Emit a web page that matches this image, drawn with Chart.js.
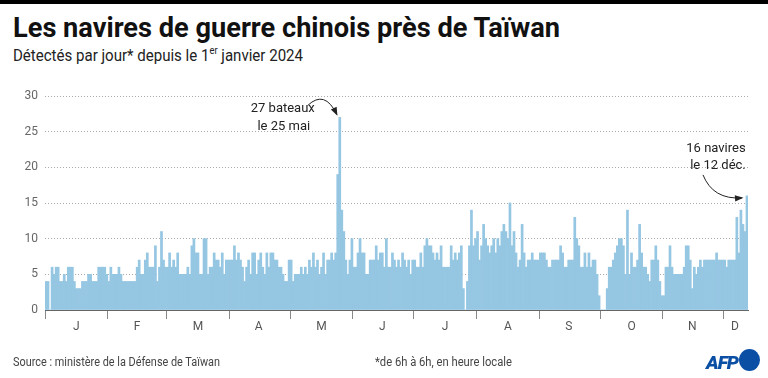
<!DOCTYPE html>
<html><head><meta charset="utf-8">
<script src="https://cdn.jsdelivr.net/npm/chart.js@4.4.0/dist/chart.umd.min.js"></script>
<style>
html,body{margin:0;padding:0;background:#fff;}
body{width:768px;height:378px;position:relative;overflow:hidden;}
#topbar{position:absolute;left:0;top:0;width:768px;height:4px;background:#000;}
.t{position:absolute;white-space:nowrap;transform-origin:0 0;line-height:1;}
#title{left:13px;top:11px;font:bold 28px Roboto,sans-serif;color:#111;}
#sub{left:13px;top:46px;font:16px Roboto,sans-serif;color:#222;}
#sub sup{font-size:10px;vertical-align:top;position:relative;top:-1px;}
#src{left:13px;top:355px;font:12px Roboto,sans-serif;color:#444;}
#note{left:375px;top:355px;font:12px Roboto,sans-serif;color:#444;}
#afp{left:706px;top:351px;font:italic 900 19px Roboto,sans-serif;color:#0a4fa3;letter-spacing:-1px;}
#dot{position:absolute;left:739px;top:349px;width:21px;height:22px;border-radius:50%;background:#0a4fa3;}
#c{position:absolute;left:0;top:0;}
</style></head>
<body>
<div id="topbar"></div>
<div class="t" id="title" data-w="547">Les navires de guerre chinois près de Taïwan</div>
<div class="t" id="sub" data-w="290">Détectés par jour* depuis le 1<sup>er</sup> janvier 2024</div>
<canvas id="c" width="768" height="378"></canvas>
<div class="t" id="src" data-w="207">Source : ministère de la Défense de Taïwan</div>
<div class="t" id="note" data-w="137">*de 6h à 6h, en heure locale</div>
<div class="t" id="afp" data-w="32">AFP</div>
<div id="dot"></div>
<script>
// ---- Data (ships detected per day, 2024) ----
const monthLetters = ['J','F','M','A','M','J','J','A','S','O','N','D'];
const jan = [4,4,0,6,5,6,6,4,4,5,4,6,6,6,4,3,3,3,4,4,4,5,5,4,4,4,6,6,6,6,5];
const feb = [4,6,5,5,5,6,5,4,4,4,4,4,4,4,6,7,5,5,7,8,6,6,6,9,4,6,11,7,6];
const mar = [6,8,6,7,6,8,5,5,5,5,6,5,9,10,8,8,5,5,10,10,5,6,6,8,7,7,6,8,5,7,7];
const apr = [7,7,9,7,8,7,6,4,6,7,5,8,8,5,7,8,6,5,8,6,8,8,7,7,6,6,5,4,4,7];
const may = [7,4,5,5,5,6,5,6,5,7,6,8,6,7,5,6,8,5,7,7,8,7,8,19,27,14,11,7,5,7,10];
const jun = [6,6,8,10,8,8,5,5,7,7,7,9,7,8,8,6,10,6,6,8,7,6,7,6,8,7,6,7,5,7];
const jul = [7,6,6,8,6,9,10,9,9,8,7,8,7,9,6,6,6,6,9,7,8,7,8,9,3,0,4,9,14,9,10];
const aug = [11,7,9,12,10,9,8,9,10,8,10,9,11,12,11,10,15,9,11,8,6,7,12,8,6,7,7,8,7,7,7];
const sep = [8,8,8,7,6,6,7,7,7,7,9,8,6,6,7,7,7,13,10,9,6,6,8,6,8,6,7,7,5,2];
const oct = [0,0,0,3,6,6,7,8,9,10,10,9,5,14,5,8,6,6,7,12,8,6,6,5,4,7,7,9,7,4,2];
const nov = [2,6,6,9,6,5,5,5,5,5,6,9,9,7,3,6,5,6,7,6,7,7,7,7,7,7,8,7,7,7];
const dec = [7,6,7,7,7,7,13,8,14,12,11,16];
const yTicks = [0,5,10,15,20,25,30];
const notes = [
  {month:4, day:25, lines:['27 bateaux','le 25 mai']},
  {month:11, day:12, lines:['16 navires','le 12 déc.']}
];

const monthData = [jan,feb,mar,apr,may,jun,jul,aug,sep,oct,nov,dec];
const values = [].concat(...monthData);
const labels = [];
const monthStart = new Set();
const monthMid = new Map();
let idx = 0;
monthData.forEach((m, mi) => {
  monthStart.add(idx);
  monthMid.set(idx + Math.floor((m.length - 1) / 2), monthLetters[mi]);
  m.forEach((v, d) => labels.push((d + 1) + '/' + (mi + 1)));
  idx += m.length;
});
function dayIndex(month, day){ let s=0; for(let i=0;i<month;i++) s+=monthData[i].length; return s+day-1; }

// fit texts
document.querySelectorAll('.t').forEach(el => {
  const w = el.getBoundingClientRect().width;
  const k = (+el.dataset.w) / w;
  el.style.transform = 'scaleX(' + k + ')';
});

function arrow(ctx, x0,y0, cx,cy, x1,y1){
  ctx.beginPath(); ctx.moveTo(x0,y0); ctx.quadraticCurveTo(cx,cy,x1,y1);
  ctx.strokeStyle='#222'; ctx.lineWidth=1; ctx.stroke();
  const a = Math.atan2(y1-cy, x1-cx), L=7, W=3.2;
  ctx.beginPath();
  ctx.moveTo(x1+1.5*Math.cos(a), y1+1.5*Math.sin(a));
  ctx.lineTo(x1-L*Math.cos(a)+W*Math.sin(a), y1-L*Math.sin(a)-W*Math.cos(a));
  ctx.lineTo(x1-L*Math.cos(a)-W*Math.sin(a), y1-L*Math.sin(a)+W*Math.cos(a));
  ctx.closePath(); ctx.fillStyle='#222'; ctx.fill();
}

const annot = {
  id:'annot',
  afterDatasetsDraw(chart){
    const {ctx, scales:{x,y}} = chart;
    ctx.save();
    ctx.font = '13px Roboto, sans-serif';
    ctx.fillStyle = '#222';
    ctx.textAlign = 'center';
    // May peak
    let i = dayIndex(notes[0].month, notes[0].day);
    let px = x.getPixelForValue(i), py = y.getPixelForValue(values[i]);
    ctx.fillText(notes[0].lines[0], px-57, py-5);
    ctx.fillText(notes[0].lines[1], px-56, py+13);
    arrow(ctx, px-32, py-12, px-15, py-28, px-3, py-3);
    // Dec
    i = dayIndex(notes[1].month, notes[1].day);
    px = x.getPixelForValue(i); py = y.getPixelForValue(values[i]);
    ctx.fillText(notes[1].lines[0], px-31, py-44);
    ctx.fillText(notes[1].lines[1], px-29, py-27);
    arrow(ctx, px-44, py-21, px-34, py+4, px-5, py+2);
    ctx.restore();
  }
};

new Chart(document.getElementById('c'), {
  type:'bar',
  data:{labels, datasets:[{data:values, backgroundColor:'#95c6e2', borderWidth:0,
    barPercentage:1, categoryPercentage:1}]},
  options:{
    responsive:false, animation:false,
    layout:{padding:{top:96,right:20,bottom:38,left:0}},
    plugins:{legend:{display:false}, tooltip:{enabled:false}},
    scales:{
      x:{
        offset:true,
        afterFit(s){ s.height = 30; },
        grid:{offset:true, drawOnChartArea:false, drawTicks:true, tickLength:9,
          color: c => monthStart.has(c.index) ? '#888' : 'rgba(0,0,0,0)', lineWidth:1},
        border:{display:true, color:'#666', width:1},
        ticks:{autoSkip:false, maxRotation:0, minRotation:0, padding:1,
          color:'#555', font:{family:'Roboto', size:12},
          callback:(v, i) => monthMid.get(i) || ''}
      },
      y:{
        min:0, max:30,
        afterFit(s){ s.width = 45; },
        afterBuildTicks(s){ s.ticks = yTicks.map(v => ({value:v})); },
        grid:{color:'#aaa', drawTicks:false, lineWidth:1},
        border:{display:false, dash:[1,2]},
        ticks:{padding:7, color:'#666', font:{family:'Roboto', size:12}}
      }
    }
  },
  plugins:[annot]
});
</script>
</body></html>
